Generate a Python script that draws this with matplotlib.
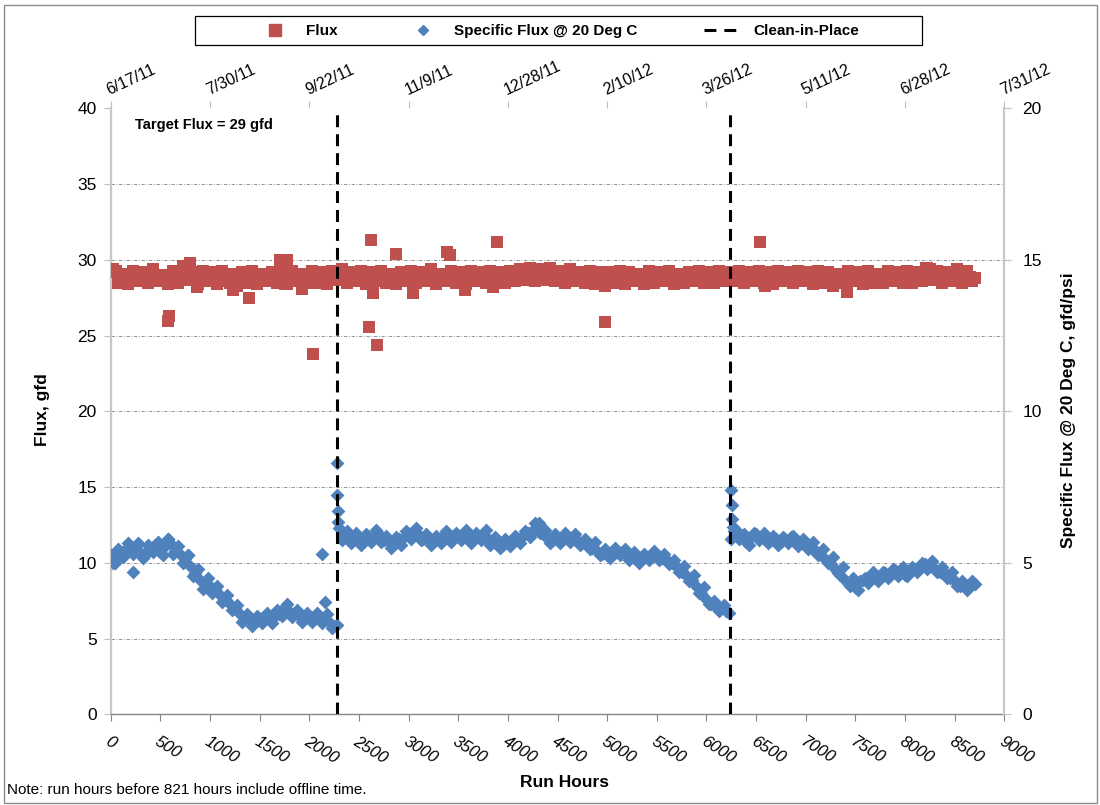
import matplotlib
matplotlib.use("Agg")
import matplotlib.pyplot as plt
from matplotlib.lines import Line2D
from matplotlib.patches import Rectangle

plt.rcParams["font.family"] = ["Liberation Sans", "DejaVu Sans"]

RED, BLUE = "#C0504D", "#4F81BD"

# run hours of the regular readings (same grid for both series)
run_hours = [
    0, 50, 100, 150, 200, 250, 300, 350, 400, 450, 500, 550, 600, 650, 700, 750, 800, 850, 900, 950,
    1000, 1050, 1100, 1150, 1200, 1250, 1300, 1350, 1400, 1450, 1500, 1550, 1600, 1650, 1700, 1750, 1800, 1850, 1900, 1950,
    2000, 2050, 2100, 2150, 2200, 2250, 2300, 2350, 2400, 2450, 2500, 2550, 2600, 2650, 2700, 2750, 2800, 2850, 2900, 2950,
    3000, 3050, 3100, 3150, 3200, 3250, 3300, 3350, 3400, 3450, 3500, 3550, 3600, 3650, 3700, 3750, 3800, 3850, 3900, 3950,
    4000, 4050, 4100, 4150, 4200, 4250, 4300, 4350, 4400, 4450, 4500, 4550, 4600, 4650, 4700, 4750, 4800, 4850, 4900, 4950,
    5000, 5050, 5100, 5150, 5200, 5250, 5300, 5350, 5400, 5450, 5500, 5550, 5600, 5650, 5700, 5750, 5800, 5850, 5900, 5950,
    6000, 6050, 6100, 6150, 6200, 6250, 6300, 6350, 6400, 6450, 6500, 6550, 6600, 6650, 6700, 6750, 6800, 6850, 6900, 6950,
    7000, 7050, 7100, 7150, 7200, 7250, 7300, 7350, 7400, 7450, 7500, 7550, 7600, 7650, 7700, 7750, 7800, 7850, 7900, 7950,
    8000, 8050, 8100, 8150, 8200, 8250, 8300, 8350, 8400, 8450, 8500, 8550, 8600, 8650, 8700,
]

# flux, gfd
flux = [
    29.2, 29.3, 29.0, 28.8, 28.9, 28.7, 29.0, 28.8, 28.9, 29.0, 28.7, 28.9, 28.6, 29.0, 28.8, 29.3, 28.9, 28.7, 29.0, 28.8,
    28.9, 28.7, 29.0, 28.8, 28.5, 28.9, 29.0, 28.8, 28.7, 28.9, 28.6, 28.9, 29.0, 28.8, 28.7, 29.1, 28.9, 28.6, 29.0, 28.8,
    28.9, 28.8, 28.9, 28.6, 29.0, 28.7, 28.9, 29.1, 28.8, 28.9, 28.7, 29.0, 28.8, 29.1, 28.9, 28.7, 29.0, 28.8, 28.9, 28.6,
    28.9, 29.0, 28.8, 28.9, 28.7, 29.1, 28.8, 29.0, 28.6, 28.9, 28.8, 29.0, 28.7, 28.9, 29.1, 28.8, 28.9, 28.7, 29.0, 28.8,
    28.9, 29.0, 28.8, 29.1, 28.9, 29.2, 28.9, 29.1, 28.8, 29.2, 28.9, 29.0, 28.8, 29.1, 28.7, 28.9, 29.0, 28.8, 28.9, 28.6,
    28.9, 28.8, 29.0, 28.7, 28.9, 28.8, 29.0, 28.6, 28.9, 28.8, 28.7, 29.0, 28.9, 28.8, 28.6, 28.9, 29.0, 28.8, 28.7, 28.9,
    28.8, 28.9, 28.7, 29.0, 28.8, 29.1, 28.9, 28.8, 29.0, 28.7, 28.9, 29.0, 28.8, 29.1, 28.9, 28.7, 29.0, 28.8, 28.9, 28.7,
    28.9, 28.6, 28.9, 28.8, 29.0, 28.5, 28.8, 28.9, 28.7, 29.0, 28.8, 28.9, 29.1, 28.7, 28.9, 28.6, 29.0, 28.8, 28.9, 28.7,
    28.9, 28.8, 29.0, 28.7, 28.9, 29.4, 29.0, 28.8, 28.7, 28.9, 29.1, 28.8, 29.2, 28.9, 28.8,
]

# specific flux @ 20 deg C, gfd/psi
spec_flux = [
    5.25, 5.1, 5.35, 5.45, 5.4, 5.55, 5.35, 5.25, 5.5, 5.6, 5.35, 5.55, 5.65, 5.4, 5.3, 5.15, 4.9, 4.65, 4.45, 4.3,
    4.25, 4.15, 3.95, 3.8, 3.65, 3.5, 3.3, 3.15, 3.1, 3.05, 3.15, 3.2, 3.15, 3.25, 3.3, 3.5, 3.4, 3.3, 3.25, 3.2,
    3.25, 3.15, 3.2, 3.15, 3.05, 2.9, 6.15, 5.9, 5.85, 5.8, 5.85, 5.75, 5.8, 5.9, 5.95, 5.75, 5.7, 5.65, 5.8, 5.85,
    5.95, 6.0, 5.95, 5.8, 5.75, 5.75, 5.8, 5.9, 5.85, 5.8, 5.9, 5.95, 5.85, 5.8, 5.9, 5.95, 5.8, 5.7, 5.65, 5.6,
    5.65, 5.75, 5.8, 5.9, 6.0, 6.1, 6.2, 5.95, 5.8, 5.75, 5.8, 5.85, 5.85, 5.8, 5.75, 5.65, 5.6, 5.5, 5.4, 5.3,
    5.25, 5.35, 5.4, 5.35, 5.25, 5.2, 5.15, 5.15, 5.2, 5.3, 5.25, 5.15, 5.1, 5.0, 4.85, 4.7, 4.55, 4.45, 4.2, 4.0,
    3.8, 3.65, 3.55, 3.5, 3.4, 5.8, 6.1, 5.85, 5.7, 5.85, 5.95, 5.85, 5.8, 5.75, 5.8, 5.7, 5.75, 5.85, 5.7, 5.65,
    5.65, 5.5, 5.4, 5.25, 5.1, 4.95, 4.75, 4.6, 4.45, 4.25, 4.2, 4.4, 4.5, 4.55, 4.5, 4.55, 4.65, 4.6, 4.75, 4.7,
    4.6, 4.7, 4.8, 4.85, 4.95, 4.9, 4.8, 4.7, 4.65, 4.5, 4.4, 4.25, 4.2, 4.25, 4.3,
]

# readings taken between the ones above
mid_hours = [
    25, 75, 125, 175, 225, 275, 325, 375, 425, 475, 525, 575, 625, 675, 725, 775, 825, 875, 925, 975,
    1025, 1075, 1125, 1175, 1225, 1275, 1325, 1375, 1425, 1475, 1525, 1575, 1625, 1675, 1725, 1775, 1825, 1875, 1925, 1975,
    2025, 2075, 2125, 2175, 2225, 2275, 2325, 2375, 2425, 2475, 2525, 2575, 2625, 2675, 2725, 2775, 2825, 2875, 2925, 2975,
    3025, 3075, 3125, 3175, 3225, 3275, 3325, 3375, 3425, 3475, 3525, 3575, 3625, 3675, 3725, 3775, 3825, 3875, 3925, 3975,
    4025, 4075, 4125, 4175, 4225, 4275, 4325, 4375, 4425, 4475, 4525, 4575, 4625, 4675, 4725, 4775, 4825, 4875, 4925, 4975,
    5025, 5075, 5125, 5175, 5225, 5275, 5325, 5375, 5425, 5475, 5525, 5575, 5625, 5675, 5725, 5775, 5825, 5875, 5925, 5975,
    6025, 6075, 6125, 6175, 6225, 6275, 6325, 6375, 6425, 6475, 6525, 6575, 6625, 6675, 6725, 6775, 6825, 6875, 6925, 6975,
    7025, 7075, 7125, 7175, 7225, 7275, 7325, 7375, 7425, 7475, 7525, 7575, 7625, 7675, 7725, 7775, 7825, 7875, 7925, 7975,
    8025, 8075, 8125, 8175, 8225, 8275, 8325, 8375, 8425, 8475, 8525, 8575, 8625, 8675,
]
flux_mid = [
    29.4, 28.5, 29.1, 28.4, 29.3, 28.6, 29.2, 28.5, 29.4, 28.6, 29.0, 28.4, 29.3, 28.5, 29.6, 28.7, 29.2, 28.4, 29.3, 28.6,
    29.2, 28.4, 29.3, 28.6, 29.1, 28.3, 29.2, 28.5, 29.3, 28.4, 29.1, 28.6, 29.2, 28.5, 29.5, 28.4, 29.3, 28.6, 29.1, 28.5,
    29.3, 28.5, 29.2, 28.4, 29.3, 28.7, 29.4, 28.5, 29.2, 28.6, 29.3, 28.4, 29.2, 28.6, 29.3, 28.5, 29.1, 28.4, 29.2, 28.6,
    29.3, 28.5, 29.2, 28.6, 29.4, 28.4, 29.1, 28.6, 29.3, 28.5, 29.2, 28.4, 29.3, 28.6, 29.2, 28.5, 29.3, 28.7, 29.2, 28.5,
    29.3, 28.6, 29.4, 28.7, 29.5, 28.6, 29.4, 28.7, 29.5, 28.6, 29.3, 28.5, 29.4, 28.6, 29.2, 28.5, 29.3, 28.4, 29.2, 28.5,
    29.2, 28.5, 29.3, 28.4, 29.2, 28.6, 29.1, 28.4, 29.3, 28.5, 29.2, 28.6, 29.3, 28.4, 29.1, 28.5, 29.2, 28.6, 29.3, 28.5,
    29.2, 28.5, 29.3, 28.6, 29.2, 28.6, 29.3, 28.5, 29.2, 28.6, 29.3, 28.5, 29.2, 28.4, 29.3, 28.6, 29.2, 28.5, 29.3, 28.6,
    29.2, 28.4, 29.3, 28.5, 29.2, 28.3, 29.1, 28.5, 29.3, 28.6, 29.2, 28.4, 29.3, 28.5, 29.1, 28.5, 29.3, 28.6, 29.2, 28.5,
    29.3, 28.5, 29.2, 28.6, 29.5, 28.7, 29.3, 28.5, 29.2, 28.6, 29.4, 28.5, 29.3, 28.6,
]
spec_mid = [
    5.0, 5.45, 5.2, 5.65, 5.3, 5.65, 5.15, 5.6, 5.35, 5.7, 5.25, 5.8, 5.3, 5.55, 5.0, 5.25, 4.55, 4.8, 4.15, 4.5,
    4.0, 4.25, 3.7, 3.95, 3.45, 3.6, 3.05, 3.3, 2.9, 3.25, 3.0, 3.35, 3.0, 3.45, 3.25, 3.65, 3.2, 3.45, 3.05, 3.35,
    3.05, 3.35, 3.0, 3.3, 2.85, 2.95, 5.75, 6.05, 5.65, 6.0, 5.6, 5.95, 5.7, 6.1, 5.7, 5.9, 5.5, 5.85, 5.6, 6.05,
    5.8, 6.15, 5.75, 5.95, 5.6, 5.9, 5.65, 6.05, 5.7, 6.0, 5.75, 6.1, 5.65, 6.0, 5.75, 6.1, 5.6, 5.85, 5.5, 5.8,
    5.55, 5.9, 5.65, 6.05, 5.85, 6.3, 6.0, 6.1, 5.65, 5.95, 5.65, 6.0, 5.7, 5.95, 5.6, 5.8, 5.45, 5.7, 5.25, 5.45,
    5.15, 5.5, 5.25, 5.45, 5.1, 5.35, 5.0, 5.3, 5.1, 5.4, 5.1, 5.3, 4.95, 5.1, 4.7, 4.9, 4.4, 4.6, 4.0, 4.2,
    3.65, 3.75, 3.4, 3.6, 3.35, 6.05, 5.8, 5.95, 5.6, 6.0, 5.75, 6.0, 5.65, 5.9, 5.6, 5.85, 5.65, 5.9, 5.55, 5.8,
    5.45, 5.7, 5.25, 5.45, 5.0, 5.2, 4.65, 4.85, 4.35, 4.5, 4.1, 4.45, 4.35, 4.7, 4.4, 4.7, 4.5, 4.8, 4.55, 4.85,
    4.55, 4.85, 4.7, 5.0, 4.8, 5.05, 4.7, 4.85, 4.5, 4.7, 4.25, 4.4, 4.1, 4.4,
]

# off-trend readings
flux_odd_hours = [580, 590, 799, 866, 1235, 1393, 1705, 1772, 1755, 1923, 2040, 2618, 2645, 2604,
                  2685, 2873, 3047, 3390, 3420, 3568, 3887, 3853, 4974, 4981, 6535, 6589, 7419, 8214]
flux_odd = [26.0, 26.3, 29.8, 28.2, 28.0, 27.5, 30.0, 30.0, 28.4, 28.1, 23.8, 31.3, 27.8, 25.6,
            24.4, 30.4, 27.8, 30.5, 30.3, 28.0, 31.2, 28.2, 25.9, 28.3, 31.2, 28.3, 27.9, 29.5]
spec_odd_hours = [43, 228, 580, 782, 2125, 2158, 2282, 2282, 2288, 2294, 4310, 6250, 6256, 6258, 6265]
spec_odd = [5.0, 4.7, 5.8, 5.25, 5.3, 3.7, 8.3, 7.25, 6.7, 6.35, 6.3, 7.4, 6.9, 6.45, 6.2]

cip_hours = [2276, 6235]

bottom_ticks = [0, 500, 1000, 1500, 2000, 2500, 3000, 3500, 4000, 4500,
                5000, 5500, 6000, 6500, 7000, 7500, 8000, 8500, 9000]
top_ticks = [0, 1000, 2000, 3000, 4000, 5000, 6000, 7000, 8000, 9000]
top_dates = ["6/17/11", "7/30/11", "9/22/11", "11/9/11", "12/28/11",
             "2/10/12", "3/26/12", "5/11/12", "6/28/12", "7/31/12"]

W, H = 1100, 805
fig = plt.figure(figsize=(W / 100, H / 100), dpi=100)
L, R, T, B = 110.7, 1004.3, 108.5, 714.3
ax = fig.add_axes([L / W, 1 - B / H, (R - L) / W, (B - T) / H])
ax2 = ax.twinx()

sq = dict(marker="s", s=80, color=RED, linewidths=0, zorder=3)
dm = dict(marker="D", s=50, color=BLUE, linewidths=0, zorder=3)
ax.scatter(mid_hours, flux_mid, **sq)
ax.scatter(run_hours, flux, **sq)
ax.scatter(flux_odd_hours, flux_odd, **sq)
ax2.scatter(mid_hours, spec_mid, **dm)
ax2.scatter(run_hours, spec_flux, **dm)
ax2.scatter(spec_odd_hours, spec_odd, **dm)
for h in cip_hours:
    ax2.axvline(h, color="black", lw=2.2, ls=(0, (3.9, 2.3)), zorder=5)

ax.set_xlim(0, 9000)
ax.set_ylim(0, 40)
ax2.set_ylim(0, 20)
ax.set_yticks([0, 5, 10, 15, 20, 25, 30, 35, 40])
ax2.set_yticks([0, 5, 10, 15, 20])

ax.grid(axis="y", color="#808080", lw=0.6, ls=(0, (4, 2, 1, 2)))
ax.get_ygridlines()[-1].set_visible(False)
ax.set_axisbelow(True)

# bottom axis: run hours
ax.set_xticks(bottom_ticks, labels=[str(t) for t in bottom_ticks])
ax.tick_params(axis="x", direction="out", length=5, color="#868686", pad=9, labelsize=12)
for lbl in ax.get_xticklabels():
    lbl.set_rotation(-32)
    lbl.set_ha("left")
    lbl.set_va("top")
    lbl.set_rotation_mode("anchor")
    lbl.set_style("italic")

ax.tick_params(axis="y", direction="out", length=5, color="#bfbfbf", pad=5, labelsize=12.5)
ax2.tick_params(axis="y", direction="out", length=5, color="#bfbfbf", pad=8, labelsize=12.5)

# top axis: calendar dates
top = ax.secondary_xaxis("top")
top.set_xticks(top_ticks, labels=top_dates)
top.tick_params(axis="x", direction="out", length=5, color="#bfbfbf", pad=3, labelsize=11.5)
for lbl in top.get_xticklabels():
    lbl.set_rotation(25)
    lbl.set_ha("left")
    lbl.set_va("bottom")
    lbl.set_rotation_mode("anchor")
top.spines["top"].set_visible(False)

for a in (ax, ax2):
    a.spines["top"].set_visible(False)
ax.spines["right"].set_visible(False)
ax2.spines["left"].set_visible(False)
ax2.spines["bottom"].set_visible(False)
ax.spines["left"].set_color("#c8c8c8")
ax.spines["left"].set_linewidth(1.6)
ax2.spines["right"].set_color("#c8c8c8")
ax2.spines["right"].set_linewidth(1.6)
ax.spines["bottom"].set_color("#868686")
ax.spines["bottom"].set_linewidth(1.0)

ax.text(0.027, 0.973, "Target Flux = 29 gfd", transform=ax.transAxes,
        fontsize=10.5, fontweight="bold", va="center", ha="left")

fig.text(42 / W, 1 - 410 / H, "Flux, gfd", rotation=90, fontsize=12.5,
         fontweight="bold", ha="center", va="center")
fig.text(1068 / W, 1 - 410 / H, "Specific Flux @ 20 Deg C, gfd/psi", rotation=90,
         fontsize=12.5, fontweight="bold", ha="center", va="center")
fig.text(565 / W, 1 - 782 / H, "Run Hours", fontsize=12.5, fontweight="bold",
         ha="center", va="center")
fig.text(7 / W, 1 - 790 / H, "Note: run hours before 821 hours include offline time.",
         fontsize=11, ha="left", va="center")

# legend box
fig.patches.append(Rectangle((195 / W, 1 - 45 / H), 727 / W, 29 / H, transform=fig.transFigure,
                             facecolor="white", edgecolor="black", lw=0.9, zorder=1))
handles = [
    Line2D([], [], marker="s", color=RED, ls="none", markersize=8.5),
    Line2D([], [], marker="D", color=BLUE, ls="none", markersize=5.5),
    Line2D([], [], color="black", lw=2.2, ls=(0, (3.9, 2.6))),
]
fig.legend(handles, ["Flux", "Specific Flux @ 20 Deg C", "Clean-in-Place"],
           loc="center left", bbox_to_anchor=(257 / W, 1 - 31 / H), ncol=3, frameon=False,
           borderpad=0, borderaxespad=0, handlelength=2.35, handletextpad=0.85,
           columnspacing=4.4, prop={"weight": "bold", "size": 11})

# chart-area border
fig.patches.append(Rectangle((0.004, 0.003), 0.993, 0.991, transform=fig.transFigure,
                             fill=False, edgecolor="#8c8c8c", lw=1.0))

fig.savefig("out.png", dpi=100, facecolor="white")
